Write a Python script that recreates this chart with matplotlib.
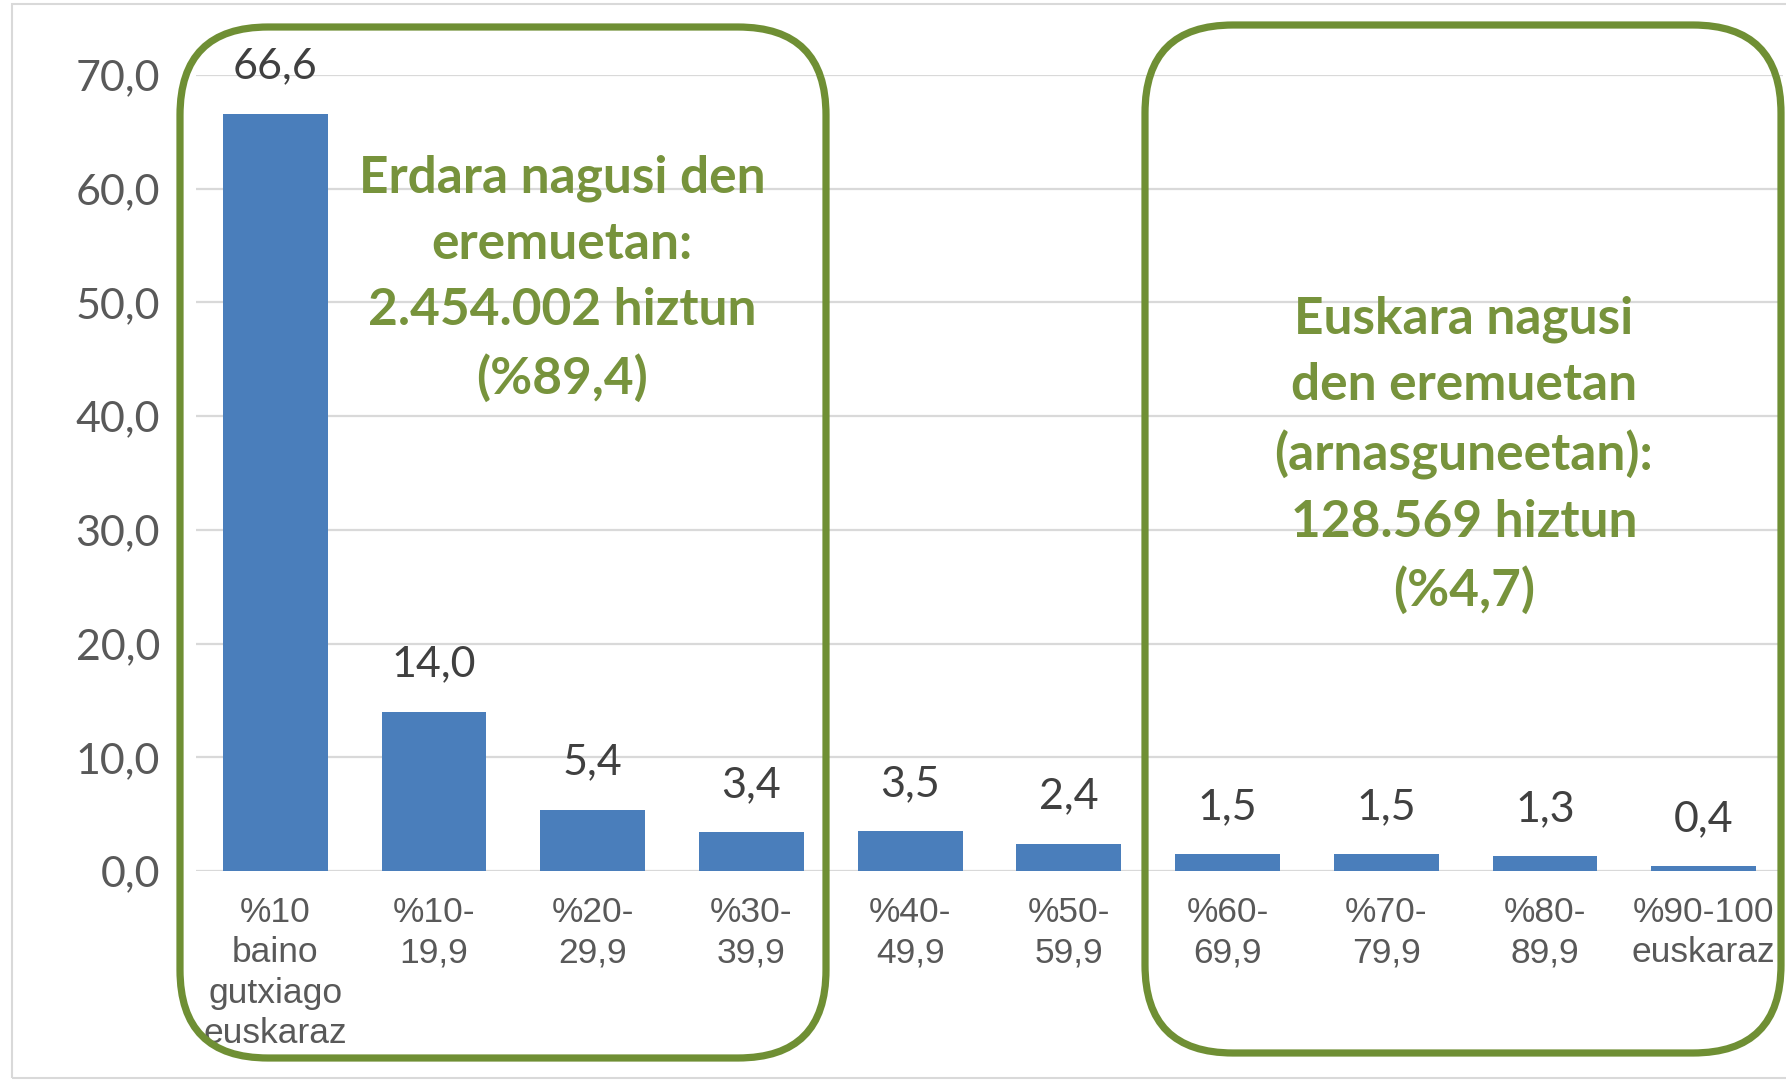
import matplotlib.pyplot as plt
from matplotlib.patches import FancyBboxPatch, Rectangle
from matplotlib.ticker import FuncFormatter

# Data
categories = [
    "%10\nbaino\ngutxiago\neuskaraz", "%10-\n19,9", "%20-\n29,9", "%30-\n39,9",
    "%40-\n49,9", "%50-\n59,9", "%60-\n69,9", "%70-\n79,9", "%80-\n89,9",
    "%90-100\neuskaraz",
]
values = [66.6, 14.0, 5.4, 3.4, 3.5, 2.4, 1.5, 1.5, 1.3, 0.4]
y_ticks = [0, 10, 20, 30, 40, 50, 60, 70]

left_note = "Erdara nagusi den\neremuetan:\n2.454.002 hiztun\n(%89,4)"
right_note = "Euskara nagusi\nden eremuetan\n(arnasguneetan):\n128.569 hiztun\n(%4,7)"

BLUE = "#4A7EBB"
GREEN_TXT = "#77933C"
GREEN_BOX = "#6F8F34"
GREY = "#595959"

W, H = 1786, 1081
fig = plt.figure(figsize=(W / 100, H / 100), dpi=100)
ax = fig.add_axes([196 / W, 1 - 871 / H, (1783 - 196) / W, (871 - 75) / H])

x = range(len(values))
ax.bar(x, values, width=0.66, color=BLUE, zorder=3)
ax.set_xlim(-0.5, len(values) - 0.5)
ax.set_ylim(0, 70)

for xi, v in zip(x, values):
    ax.annotate(f"{v:.1f}".replace(".", ","), (xi, v), xytext=(0, 34),
                textcoords="offset points", ha="center", va="center",
                fontsize=31, color="#404040", family="Lato",
                annotation_clip=False, zorder=4)

ax.set_yticks(y_ticks)
ax.yaxis.set_major_formatter(FuncFormatter(lambda v, p: f"{v:.1f}".replace(".", ",")))
ax.tick_params(axis="y", length=0, pad=26, labelsize=31, labelcolor=GREY)
for lab in ax.get_yticklabels():
    lab.set_family("Lato")

ax.set_xticks(list(x))
ax.set_xticklabels(categories, fontsize=25.5, color=GREY, linespacing=1.28,
                   family=["Liberation Sans Narrow", "Liberation Sans"])
ax.tick_params(axis="x", length=0, pad=18)

ax.grid(axis="y", color="#D9D9D9", linewidth=1.6, zorder=0)
ax.set_axisbelow(True)
for s in ax.spines.values():
    s.set_visible(False)

# outer chart border
fig.patches.append(Rectangle((12 / W, 1 - 1078 / H), 1, (1078 - 4) / H,
                             transform=fig.transFigure, fill=False,
                             edgecolor="#D9D9D9", linewidth=1.5))

# rounded green boxes (inches, so the corners stay round)
for (x0, x1, top, bot) in [(180, 826, 27, 1058), (1145, 1781, 25, 1053)]:
    box = FancyBboxPatch((x0 / 100, (H - bot) / 100), (x1 - x0) / 100, (bot - top) / 100,
                         boxstyle="round,pad=0,rounding_size=0.88",
                         transform=fig.dpi_scale_trans, fill=False,
                         edgecolor=GREEN_BOX, linewidth=5.2, zorder=10)
    fig.patches.append(box)

fig.text(562 / W, 1 - 279 / H, left_note, ha="center", va="center",
         fontsize=37, fontweight="bold", color=GREEN_TXT, family="Lato",
         linespacing=1.5)
fig.text(1464 / W, 1 - 455 / H, right_note, ha="center", va="center",
         fontsize=37, fontweight="bold", color=GREEN_TXT, family="Lato",
         linespacing=1.5)

fig.savefig("out.png", dpi=100)
